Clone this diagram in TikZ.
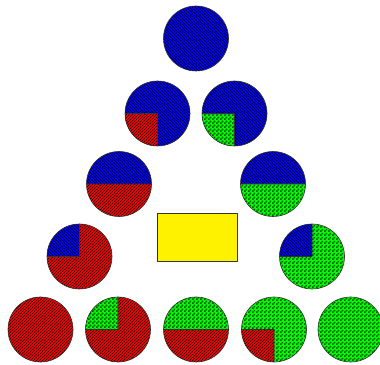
\documentclass[tikz,border=0pt]{standalone}
\usetikzlibrary{patterns}
\pgfdeclarepatternformonly{greencheck}{\pgfqpoint{0pt}{0pt}}{\pgfqpoint{4pt}{4pt}}{\pgfqpoint{4pt}{4pt}}{%
  \pgfpathrectangle{\pgfqpoint{0pt}{0pt}}{\pgfqpoint{2pt}{2pt}}%
  \pgfpathrectangle{\pgfqpoint{2pt}{2pt}}{\pgfqpoint{2pt}{2pt}}%
  \pgfusepath{fill}}
\begin{document}
\begin{tikzpicture}[x=1pt, y=1pt, line join=round,
  bluepart/.style={preaction={fill=blue}, pattern=north west lines},
  redpart/.style={preaction={fill=red}, pattern=north east lines},
  greenpart/.style={preaction={fill=green}, pattern=greencheck, pattern color=green!35!black},
  rim/.style={draw=black!80, line width=0.6pt}]
\useasboundingbox (0,0) rectangle (380,364);
% centres of the pies
\coordinate (a) at (196,325.5);
\coordinate (b1) at (157.5,250.5);
\coordinate (b2) at (234.5,250.5);
\coordinate (c1) at (119,180);
\coordinate (c2) at (273,180);
\coordinate (d1) at (79.5,107.5);
\coordinate (d2) at (312,107.5);
\coordinate (e1) at (40.5,34.5);
\coordinate (e2) at (118,34.5);
\coordinate (e3) at (196,34.5);
\coordinate (e4) at (274,34.5);
\coordinate (e5) at (350.5,34.5);
% top
\fill[bluepart] (a) circle (32.5);
\draw[rim] (a) circle (32.5);
% second row
\fill[bluepart] (b1) circle (32.5);
\fill[redpart] (b1) -- ++(-32.5,0) arc (180:270:32.5) -- cycle;
\draw[rim] (b1) -- ++(-32.5,0) (b1) -- ++(0,-32.5) (b1) circle (32.5);
\fill[bluepart] (b2) circle (32.5);
\fill[greenpart] (b2) -- ++(-32.5,0) arc (180:270:32.5) -- cycle;
\draw[rim] (b2) -- ++(-32.5,0) (b2) -- ++(0,-32.5) (b2) circle (32.5);
% third row
\fill[bluepart] (c1) ++(32.5,0) arc (0:180:32.5) -- cycle;
\fill[redpart] (c1) ++(-32.5,0) arc (180:360:32.5) -- cycle;
\draw[rim] (c1) ++(-32.5,0) -- ++(65,0) (c1) circle (32.5);
\fill[bluepart] (c2) ++(32.5,0) arc (0:180:32.5) -- cycle;
\fill[greenpart] (c2) ++(-32.5,0) arc (180:360:32.5) -- cycle;
\draw[rim] (c2) ++(-32.5,0) -- ++(65,0) (c2) circle (32.5);
% fourth row
\fill[redpart] (d1) circle (32.5);
\fill[bluepart] (d1) -- ++(-32.5,0) arc (180:90:32.5) -- cycle;
\draw[rim] (d1) -- ++(-32.5,0) (d1) -- ++(0,32.5) (d1) circle (32.5);
\fill[greenpart] (d2) circle (32.5);
\fill[bluepart] (d2) -- ++(-32.5,0) arc (180:90:32.5) -- cycle;
\draw[rim] (d2) -- ++(-32.5,0) (d2) -- ++(0,32.5) (d2) circle (32.5);
% bottom row
\fill[redpart] (e1) circle (32.5);
\draw[rim] (e1) circle (32.5);
\fill[redpart] (e2) circle (32.5);
\fill[greenpart] (e2) -- ++(-32.5,0) arc (180:90:32.5) -- cycle;
\draw[rim] (e2) -- ++(-32.5,0) (e2) -- ++(0,32.5) (e2) circle (32.5);
\fill[greenpart] (e3) ++(32.5,0) arc (0:180:32.5) -- cycle;
\fill[redpart] (e3) ++(-32.5,0) arc (180:360:32.5) -- cycle;
\draw[rim] (e3) ++(-32.5,0) -- ++(65,0) (e3) circle (32.5);
\fill[greenpart] (e4) circle (32.5);
\fill[redpart] (e4) -- ++(-32.5,0) arc (180:270:32.5) -- cycle;
\draw[rim] (e4) -- ++(-32.5,0) (e4) -- ++(0,-32.5) (e4) circle (32.5);
\fill[greenpart] (e5) circle (32.5);
\draw[rim] (e5) circle (32.5);
% box in the middle
\draw[fill=yellow, draw=black!80, line width=0.6pt] (157,102.5) rectangle (237.5,150.5);
\end{tikzpicture}
\end{document}
